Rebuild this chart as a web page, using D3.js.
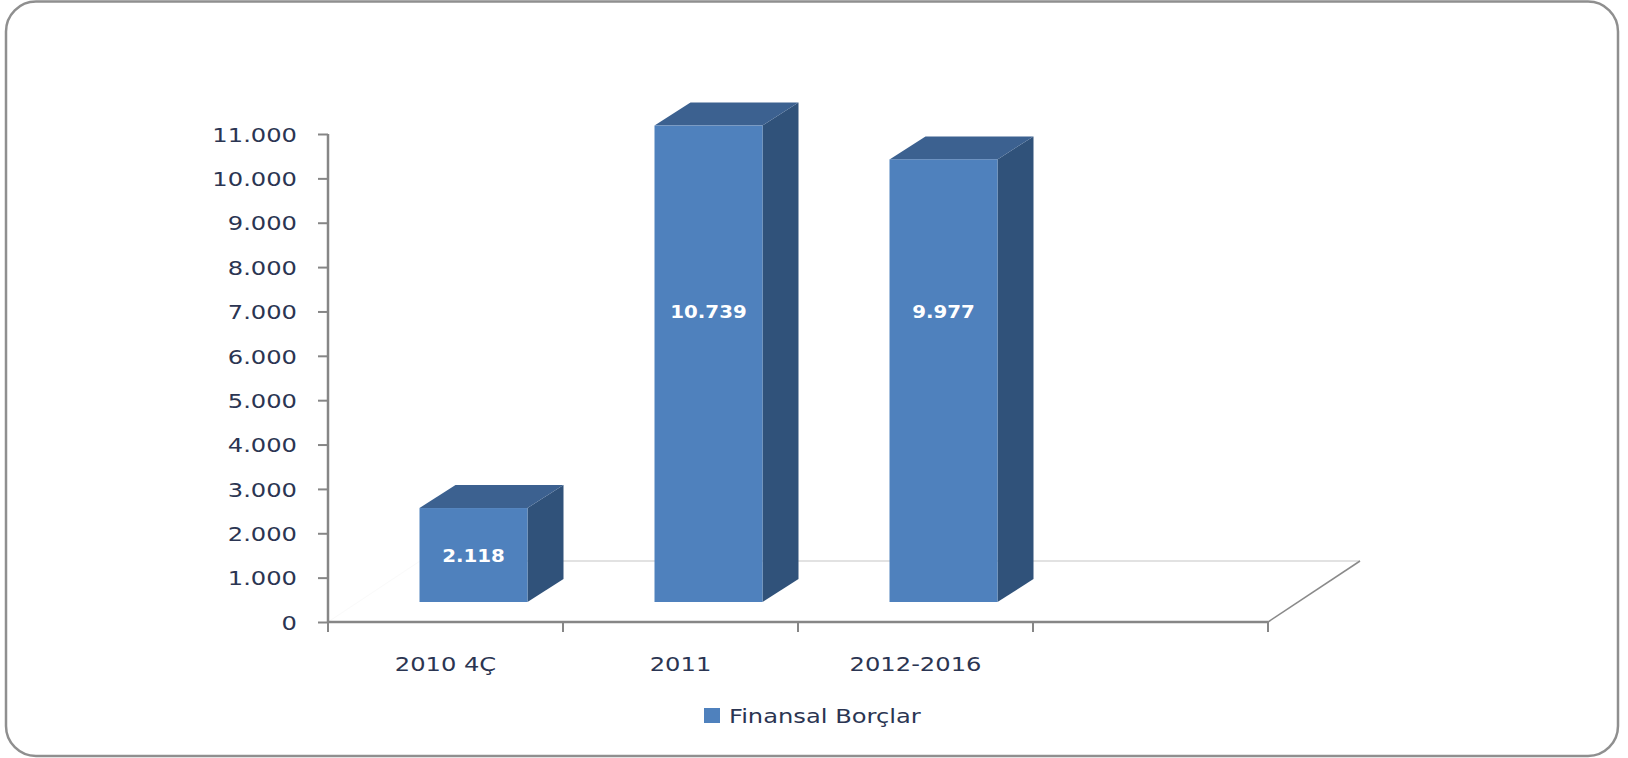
<!DOCTYPE html>
<html lang="tr">
<head>
    <meta charset="UTF-8">
    <title>Finansal Borçlar</title>
    <style>
        body { margin: 0; background: #fff; }
        svg text { font-family: "DejaVu Sans", Verdana, sans-serif; }
    </style>
    <script src="https://cdn.jsdelivr.net/npm/d3@7"></script>
</head>
<body>
    <script>
        // Data
        const categories = ["2010 4Ç", "2011", "2012-2016"];
        const values = [2118, 10739, 9977];
        const yTicks = [0, 1000, 2000, 3000, 4000, 5000, 6000, 7000, 8000, 9000, 10000, 11000];
        const seriesName = "Finansal Borçlar";

        const width = 1628, height = 758;
        const svg = d3.select("body").append("svg").attr("width", width).attr("height", height);

        // Turkish number format (1.000)
        const fmt = d3.formatLocale({ decimal: ",", thousands: ".", grouping: [3], currency: ["", ""] }).format(",");

        // the original picture is stretched sideways, so text is too
        const sx = 1.21;
        const textCol = "#2b3552";

        // frame
        svg.append("rect")
            .attr("x", 6).attr("y", 1.5).attr("width", 1612).attr("height", 754.5)
            .attr("rx", 30).attr("fill", "#fff")
            .attr("stroke", "#8f8f8f").attr("stroke-width", 2.5);

        // scales - one empty slot at the end like the original
        const slots = [...categories, ""];
        const x = d3.scaleBand().domain(slots).range([328, 1268]);
        const y = d3.scaleLinear().domain([0, 11000]).range([622, 134]);

        // 3d offsets
        const floor = { dx: 92, dy: -61 };   // floor depth
        const front = { dx: 28, dy: -20 };   // bar front plane
        const depth = { dx: 36, dy: -23 };   // bar depth
        const bw = 108;
        const labelCap = 6560;               // tall bars get their label here

        const blue = "#4f81bd", topCol = "#3c6190", sideCol = "#30527a";

        // floor edges
        svg.append("line")
            .attr("x1", x.range()[0] + floor.dx).attr("x2", x.range()[1] + floor.dx)
            .attr("y1", y(0) + floor.dy).attr("y2", y(0) + floor.dy)
            .attr("stroke", "#d9d9d9").attr("stroke-width", 1.5);
        svg.append("line")
            .attr("x1", x.range()[0]).attr("y1", y(0))
            .attr("x2", x.range()[0] + floor.dx).attr("y2", y(0) + floor.dy)
            .attr("stroke", "#fafafa").attr("stroke-width", 1);
        svg.append("line")
            .attr("x1", x.range()[1]).attr("y1", y(0))
            .attr("x2", x.range()[1] + floor.dx).attr("y2", y(0) + floor.dy)
            .attr("stroke", "#8a8a8a").attr("stroke-width", 1.5);

        // bars
        const data = categories.map((c, i) => ({ c, v: values[i] }));
        const bars = svg.append("g").selectAll("g").data(data).join("g");
        const fx = d => x(d.c) + (x.bandwidth() - bw) / 2 + front.dx;
        const fy = d => y(d.v) + front.dy;
        const fb = d => y(0) + front.dy;

        bars.append("polygon")
            .attr("fill", sideCol)
            .attr("points", d => {
                const x1 = fx(d) + bw;
                return [[x1, fy(d)], [x1 + depth.dx, fy(d) + depth.dy],
                        [x1 + depth.dx, fb(d) + depth.dy], [x1, fb(d)]].join(" ");
            });
        bars.append("polygon")
            .attr("fill", topCol)
            .attr("points", d => [[fx(d), fy(d)], [fx(d) + depth.dx, fy(d) + depth.dy],
                                  [fx(d) + bw + depth.dx, fy(d) + depth.dy], [fx(d) + bw, fy(d)]].join(" "));
        bars.append("rect")
            .attr("fill", blue)
            .attr("x", fx).attr("y", fy)
            .attr("width", bw).attr("height", d => fb(d) - fy(d));
        bars.append("text")
            .attr("transform", d => `translate(${fx(d) + bw / 2},${y(d.v > labelCap ? labelCap : d.v / 2) + front.dy}) scale(1.1,1)`)
            .attr("text-anchor", "middle").attr("dominant-baseline", "central")
            .attr("fill", "#fff").attr("font-weight", "bold")
            .attr("font-size", 18)
            .text(d => fmt(d.v));

        // y axis
        const yAxis = svg.append("g")
            .attr("transform", `translate(${x.range()[0]},0)`)
            .call(d3.axisLeft(y).tickValues(yTicks).tickFormat(fmt).tickSize(10).tickPadding(0));
        yAxis.select(".domain").attr("stroke", "#868686").attr("stroke-width", 2.5)
            .attr("d", `M0,${y(11000)}V${y(0)}`);
        yAxis.selectAll(".tick line").attr("stroke", "#868686").attr("stroke-width", 2);
        yAxis.selectAll(".tick text")
            .attr("x", 0).attr("dy", null)
            .attr("dominant-baseline", "central")
            .attr("transform", `translate(-31,0) scale(${sx},1)`)
            .attr("font-size", 20).attr("fill", textCol)
            .attr("font-family", "DejaVu Sans");

        // x axis
        const xAxis = svg.append("g").attr("transform", `translate(0,${y(0)})`);
        xAxis.append("line")
            .attr("x1", x.range()[0]).attr("x2", x.range()[1])
            .attr("stroke", "#868686").attr("stroke-width", 2.5);
        xAxis.selectAll("line.tk").data(slots.map(s => x(s)).concat(x.range()[1])).join("line")
            .attr("class", "tk")
            .attr("x1", d => d).attr("x2", d => d).attr("y1", 0).attr("y2", 10)
            .attr("stroke", "#868686").attr("stroke-width", 2);
        xAxis.selectAll("text").data(categories).join("text")
            .attr("transform", d => `translate(${x(d) + x.bandwidth() / 2},42) scale(${sx},1)`)
            .attr("text-anchor", "middle").attr("dominant-baseline", "central")
            .attr("font-size", 20).attr("fill", textCol)
            .text(d => d);

        // legend
        const lg = svg.append("g").attr("transform", "translate(704,716)");
        lg.append("rect").attr("x", 0).attr("y", -8).attr("width", 16).attr("height", 15).attr("fill", blue);
        lg.append("text")
            .attr("transform", `translate(25,0) scale(${sx},1)`)
            .attr("dominant-baseline", "central")
            .attr("font-size", 20).attr("fill", textCol)
            .text(seriesName);
    </script>
</body>
</html>
